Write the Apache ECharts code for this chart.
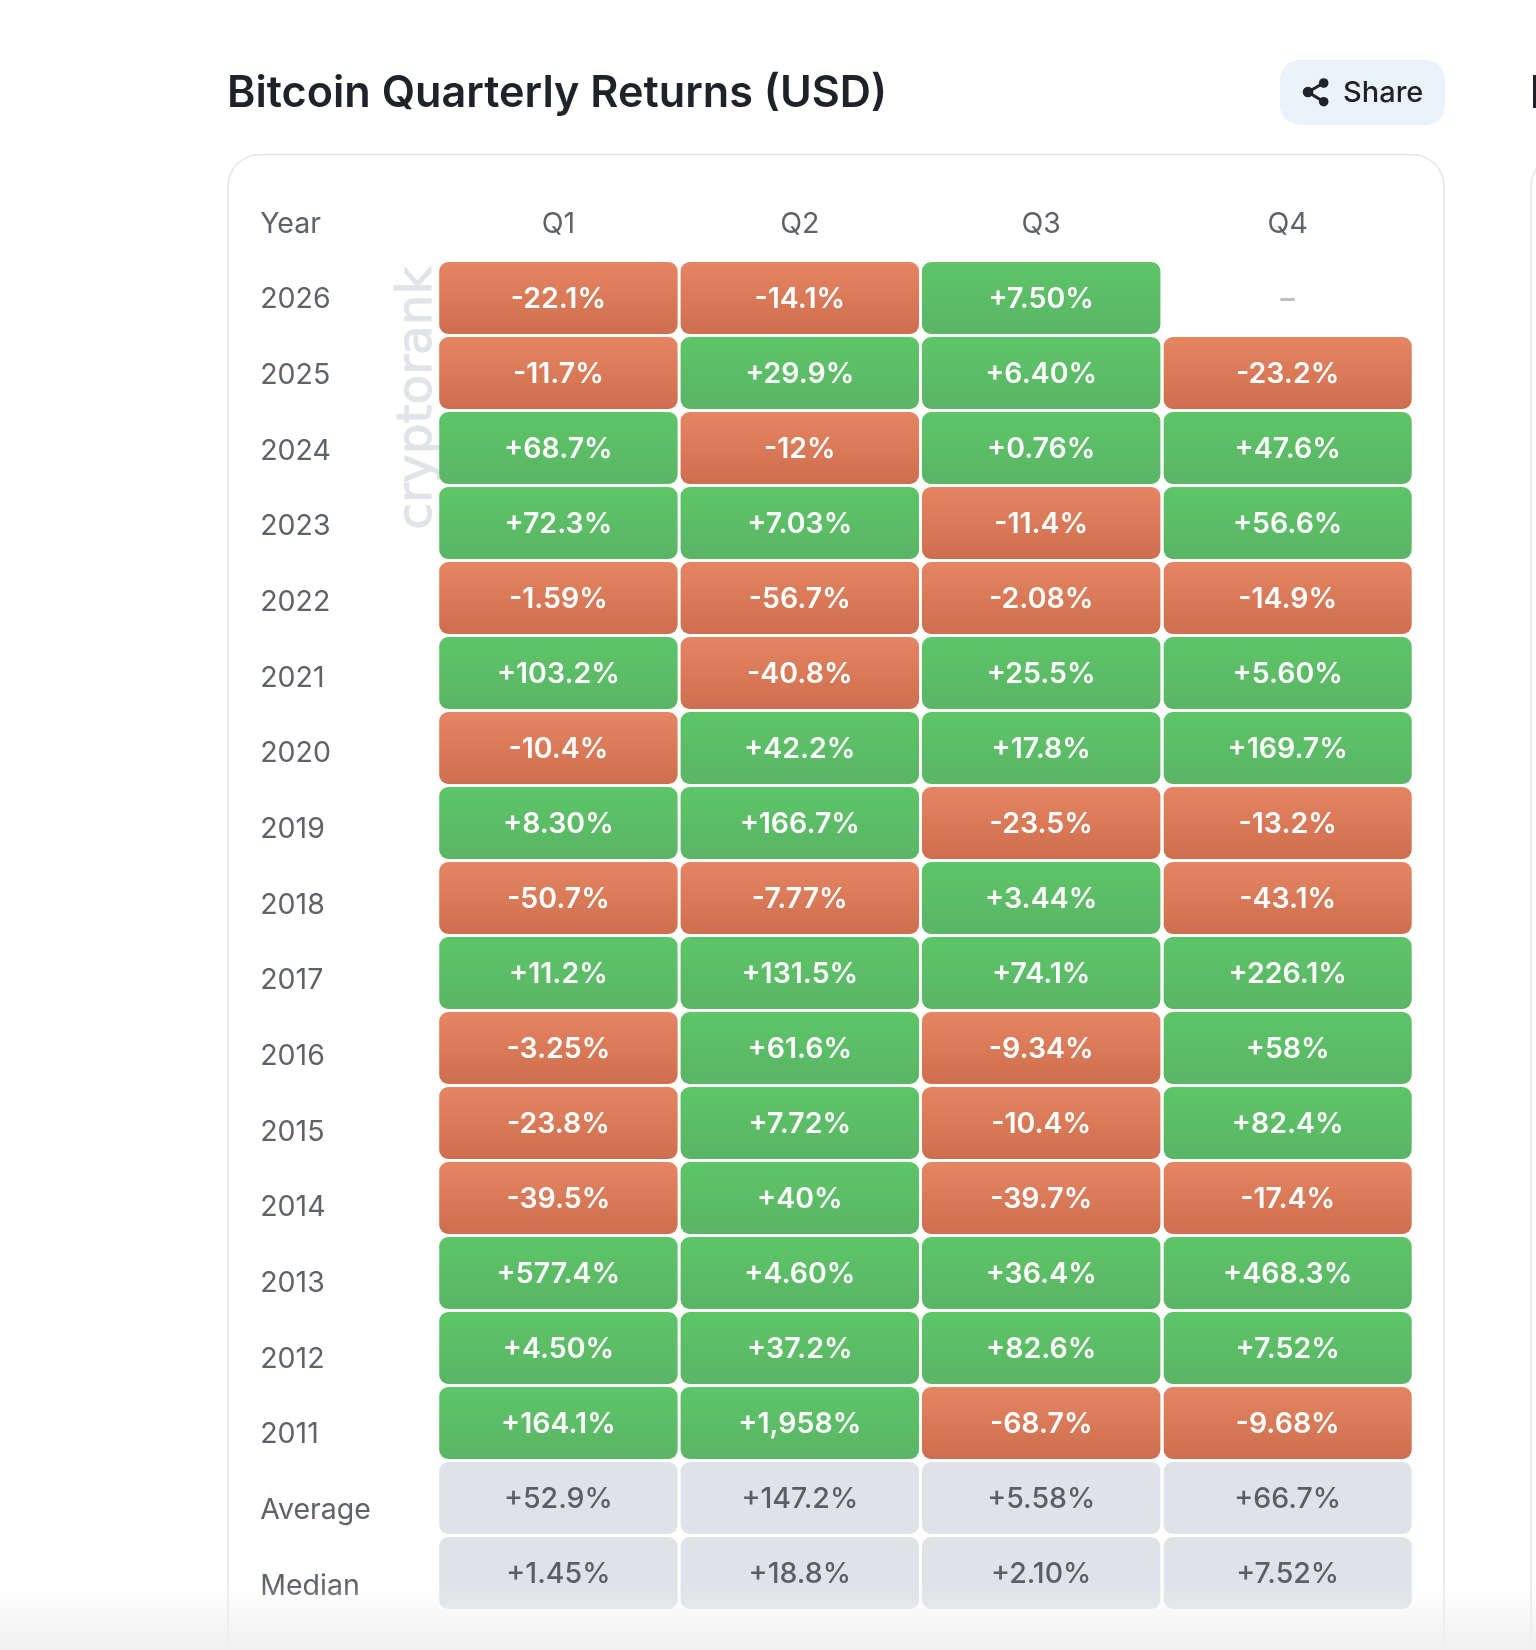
<!DOCTYPE html>
<html><head><meta charset="utf-8">
<style>html,body{margin:0;padding:0;background:#fff}#c{width:1536px;height:1650px}</style>
<script src="https://cdn.jsdelivr.net/npm/echarts@6/dist/echarts.min.js"></script>
</head><body><div id="c"></div>
<script>
const rowLabels=['2026','2025','2024','2023','2022','2021','2020','2019','2018','2017','2016','2015','2014','2013','2012','2011','Average','Median'];
const quarters=['Q1','Q2','Q3'];
const lastQuarter=['Q4'];
const q1=['-22.1%','-11.7%','+68.7%','+72.3%','-1.59%','+103.2%','-10.4%','+8.30%','-50.7%','+11.2%','-3.25%','-23.8%','-39.5%','+577.4%','+4.50%','+164.1%','+52.9%','+1.45%'];
const q2=['-14.1%','+29.9%','-12%','+7.03%','-56.7%','-40.8%','+42.2%','+166.7%','-7.77%','+131.5%','+61.6%','+7.72%','+40%','+4.60%','+37.2%','+1,958%','+147.2%','+18.8%'];
const q3=['+7.50%','+6.40%','+0.76%','-11.4%','-2.08%','+25.5%','+17.8%','-23.5%','+3.44%','+74.1%','-9.34%','-10.4%','-39.7%','+36.4%','+82.6%','-68.7%','+5.58%','+2.10%'];
const q4=['–','-23.2%','+47.6%','+56.6%','-14.9%','+5.60%','+169.7%','-13.2%','-43.1%','+226.1%','+58%','+82.4%','-17.4%','+468.3%','+7.52%','-9.68%','+66.7%','+7.52%'];

const FONT='Inter';
const grad=(a,b)=>new echarts.graphic.LinearGradient(0,0,0,1,[{offset:0,color:a},{offset:1,color:b}]);
const RED=grad('#e58563','#cd6e4e'), GREEN=grad('#5ec568','#5ab565');
const rows=(list,xi)=>list.map((s,yi)=>[xi,yi,parseFloat(s.replace(/[,%+]/g,'')),s]);
const s123=[...rows(q1,0),...rows(q2,1),...rows(q3,2)], s4=rows(q4,0);
const store={a:s123,b:s4};
function renderCell(params,api){
  const c=api.coord([api.value(0),api.value(1)]);
  const sz=api.size([1,1]);
  const w=sz[0]-3,h=sz[1]-3;
  const yi=api.value(1),v=api.value(2),txt=store[params.seriesId][params.dataIndex][3];
  const summary=yi>=16, empty=isNaN(v);
  const fill=summary?'#dfe2e6':(v<0?RED:GREEN);
  const kids=[];
  if(!empty)kids.push({type:'rect',shape:{x:c[0]-w/2,y:c[1]-h/2,width:w,height:h,r:9},style:{fill}});
  kids.push({type:'text',style:{x:c[0],y:c[1]+1.8,text:txt,align:'center',verticalAlign:'middle',
    fill:empty?'#bcc0c5':(summary?'#5a5f65':'#ffffff'),font:(summary?'500':'600')+' 28.5px '+FONT}});
  return {type:'group',children:kids};
}

const catX=(data,gi)=>({type:'category',gridIndex:gi,data,position:'top',axisLine:{show:false},axisTick:{show:false},
  axisLabel:{margin:22,color:'#5f6368',fontFamily:FONT,fontSize:28.5,fontWeight:400,verticalAlign:'bottom'}});
const catY=gi=>({type:'category',gridIndex:gi,data:rowLabels,inverse:true,show:false});

const chart=echarts.init(document.getElementById('c'),null,{renderer:'canvas'});
chart.setOption({
  animation:false,
  backgroundColor:'#ffffff',
  title:{text:'Bitcoin Quarterly Returns (USD)',left:222,top:68,textStyle:{fontFamily:FONT,fontWeight:600,fontSize:43.2,color:'#1f2329'}},
  grid:[
    {left:260.2,width:170,top:186.3,height:1437.7},
    {left:437.7,width:724.2,top:260.5,height:1350},
    {left:1162.2,width:251,top:260.5,height:1350}
  ],
  xAxis:[
    {type:'value',gridIndex:0,show:false},
    catX(quarters,1),
    catX(lastQuarter,2)
  ],
  yAxis:[
    {type:'category',gridIndex:0,data:['Year',...rowLabels],inverse:true,axisLine:{show:false},axisTick:{show:false},
     axisLabel:{inside:true,margin:0,align:'left',color:'#5f6368',fontFamily:FONT,fontSize:28.5,fontWeight:400}},
    catY(1),catY(2)
  ],
  series:[
    {id:'a',type:'custom',xAxisIndex:1,yAxisIndex:1,coordinateSystem:'cartesian2d',renderItem:renderCell,data:s123,silent:true,z:5},
    {id:'b',type:'custom',xAxisIndex:2,yAxisIndex:2,coordinateSystem:'cartesian2d',renderItem:renderCell,data:s4,silent:true,z:5}
  ],
  graphic:[
    {type:'rect',z:-10,shape:{x:228,y:154.5,width:1216,height:1600,r:32},style:{fill:'#ffffff',stroke:'#e3e5ea',lineWidth:1.5}},
    {type:'rect',z:-10,shape:{x:1531,y:154.5,width:120,height:1600,r:32},style:{fill:'#ffffff',stroke:'#e3e5ea',lineWidth:1.5}},
    {type:'rect',z:1,shape:{x:1280,y:60,width:165,height:65,r:20},style:{fill:'#eaf2fc'}},
    {type:'polyline',z:2,shape:{points:[[1323.7,83],[1308,92],[1323.7,101.7]]},style:{fill:'none',stroke:'#1f2329',lineWidth:3}},
    {type:'circle',z:2,shape:{cx:1308,cy:92,r:5.3},style:{fill:'#1f2329'}},
    {type:'circle',z:2,shape:{cx:1323.7,cy:83,r:4.8},style:{fill:'#1f2329'}},
    {type:'circle',z:2,shape:{cx:1323.7,cy:101.7,r:4.8},style:{fill:'#1f2329'}},
    {type:'text',z:2,style:{x:1343,y:93,text:'Share',align:'left',verticalAlign:'middle',fill:'#1f2329',font:'500 29px '+FONT}},
    {type:'rect',z:2,shape:{x:1533,y:75,width:3,height:33},style:{fill:'#1f2329'}},
    {type:'text',z:-5,x:418,y:398,rotation:Math.PI/2,style:{x:0,y:0,text:'cryptorank',align:'center',verticalAlign:'middle',fill:'#e0e3e7',stroke:'#e0e3e7',lineWidth:1,font:'400 48.5px "DejaVu Sans"'}},
    {type:'rect',z:100,silent:true,shape:{x:0,y:1585,width:1536,height:65},style:{fill:new echarts.graphic.LinearGradient(0,0,0,1,[{offset:0,color:'rgba(240,240,241,0)'},{offset:1,color:'rgba(240,240,241,1)'}])}}
  ]
});
</script></body></html>
